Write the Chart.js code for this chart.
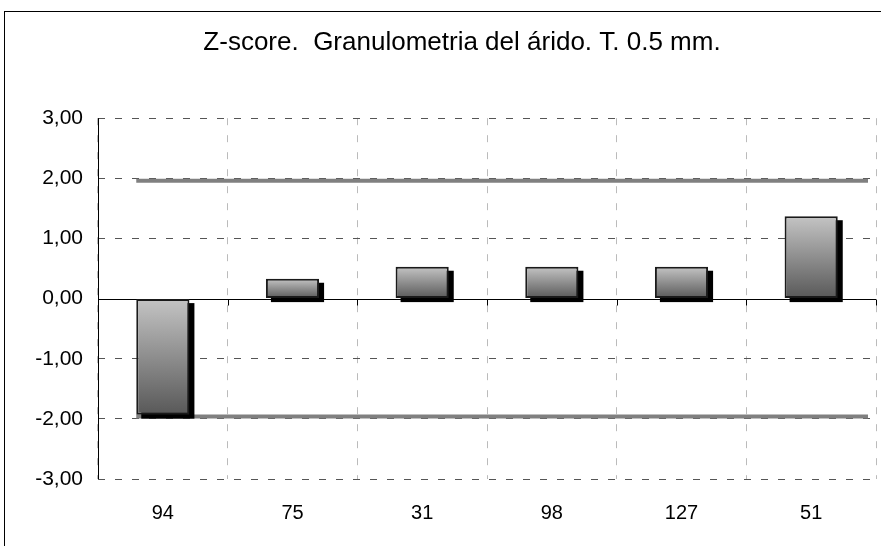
<!DOCTYPE html>
<html>
<head>
<meta charset="utf-8">
<script src="https://cdn.jsdelivr.net/npm/chart.js@4"></script>
<style>
  html, body { margin: 0; padding: 0; background: #fff; overflow: hidden; width: 881px; height: 546px; }
  #frame { position: absolute; left: 4px; top: 11px; width: 920px; height: 560px;
           border-top: 1px solid #000; border-left: 1px solid #000; }
  canvas { position: absolute; left: 0; top: 0; }
</style>
</head>
<body>
<div id="frame"><canvas id="zscore" width="914" height="535"></canvas></div>
<script>
// data
var labs = ["94", "75", "31", "98", "127", "51"];
var zvals = [-1.93, 0.33, 0.53, 0.53, 0.53, 1.37];
var limits = [1.96, -1.96];
var yTicks = [-3, -2, -1, 0, 1, 2, 3];

var titleText = "Z-score.  Granulometria del árido. T. 0.5 mm.";
var fnt = "'Liberation Sans', Arial, sans-serif";

function barGrad(c) {
  var chart = c.chart;
  if (!chart.chartArea || c.parsed == null) return '#999';
  var ys = chart.scales.y;
  var p0 = ys.getPixelForValue(0), p1 = ys.getPixelForValue(c.parsed.y);
  var g = chart.ctx.createLinearGradient(0, Math.min(p0, p1), 0, Math.max(p0, p1));
  g.addColorStop(0, '#c4c4c4');
  g.addColorStop(1, '#585858');
  return g;
}

// zero line, left axis, limit lines and bar shadows go under the bars
var backStuff = {
  id: 'backStuff',
  beforeDatasetsDraw: function(chart) {
    var ctx = chart.ctx, a = chart.chartArea, ys = chart.scales.y;
    var meta = chart.getDatasetMeta(0);
    ctx.save();

    // limit lines
    ctx.strokeStyle = '#808080';
    ctx.lineWidth = 4;
    var x0 = meta.data[0].x - meta.data[0].width / 2;
    limits.forEach(function(v) {
      var y = ys.getPixelForValue(v);
      ctx.beginPath();
      ctx.moveTo(x0, y);
      ctx.lineTo(a.right - 8, y);
      ctx.stroke();
    });

    // zero line with tick marks
    ctx.strokeStyle = '#000';
    ctx.lineWidth = 1;
    var yz = Math.round(ys.getPixelForValue(0)) + 0.5;
    ctx.beginPath();
    ctx.moveTo(a.left, yz);
    ctx.lineTo(a.right, yz);
    var n = labs.length, cw = (a.right - a.left) / n;
    for (var i = 0; i <= n; i++) {
      var xx = Math.round(a.left + i * cw) + 0.5;
      ctx.moveTo(xx, yz);
      ctx.lineTo(xx, yz + 6);
    }
    // left axis
    var xl = Math.round(a.left) + 0.5;
    ctx.moveTo(xl, a.top);
    ctx.lineTo(xl, a.bottom);
    ctx.stroke();

    // shadows
    ctx.fillStyle = '#000';
    meta.data.forEach(function(b) {
      var top = Math.min(b.y, b.base), h = Math.abs(b.base - b.y);
      ctx.fillRect(b.x - b.width / 2 + 5, top + 4, b.width, h);
    });
    ctx.restore();
  }
};

new Chart(document.getElementById('zscore'), {
  type: 'bar',
  data: {
    labels: labs,
    datasets: [{
      data: zvals,
      backgroundColor: barGrad,
      borderColor: '#1a1a1a',
      borderWidth: 2,
      borderSkipped: false,
      categoryPercentage: 1,
      barPercentage: 0.41
    }]
  },
  options: {
    responsive: false,
    animation: false,
    layout: { padding: 0 },
    plugins: {
      legend: { display: false },
      tooltip: { enabled: false },
      title: {
        display: true,
        text: titleText,
        color: '#000',
        font: { family: fnt, size: 26, weight: 'normal' },
        padding: { top: 15, bottom: 60 }
      }
    },
    scales: {
      x: {
        grid: { color: '#bbbbbb', drawTicks: false, offset: true },
        border: { display: false, dash: [7, 10] },
        ticks: { color: '#000', padding: 22, font: { family: fnt, size: 20 } },
        afterFit: function(s) { s.height = 68; }
      },
      y: {
        min: -3, max: 3,
        afterBuildTicks: function(s) { s.ticks = yTicks.map(function(v) { return { value: v }; }); },
        grid: {
          drawTicks: false,
          color: function(c) { return c.tick && c.tick.value === 0 ? 'rgba(0,0,0,0)' : '#555'; }
        },
        border: { display: false, dash: [7, 10] },
        ticks: {
          color: '#000', padding: 15, font: { family: fnt, size: 21 },
          callback: function(v) { return v.toFixed(2).replace('.', ','); }
        },
        afterFit: function(s) { s.width = 93; }
      },
      // empty right axis, only keeps room on the right of the plot
      yR: {
        position: 'right',
        min: -3, max: 3,
        grid: { display: false },
        border: { display: false },
        ticks: { display: false },
        afterFit: function(s) { s.width = 43; }
      }
    }
  },
  plugins: [backStuff]
});
</script>
</body>
</html>
